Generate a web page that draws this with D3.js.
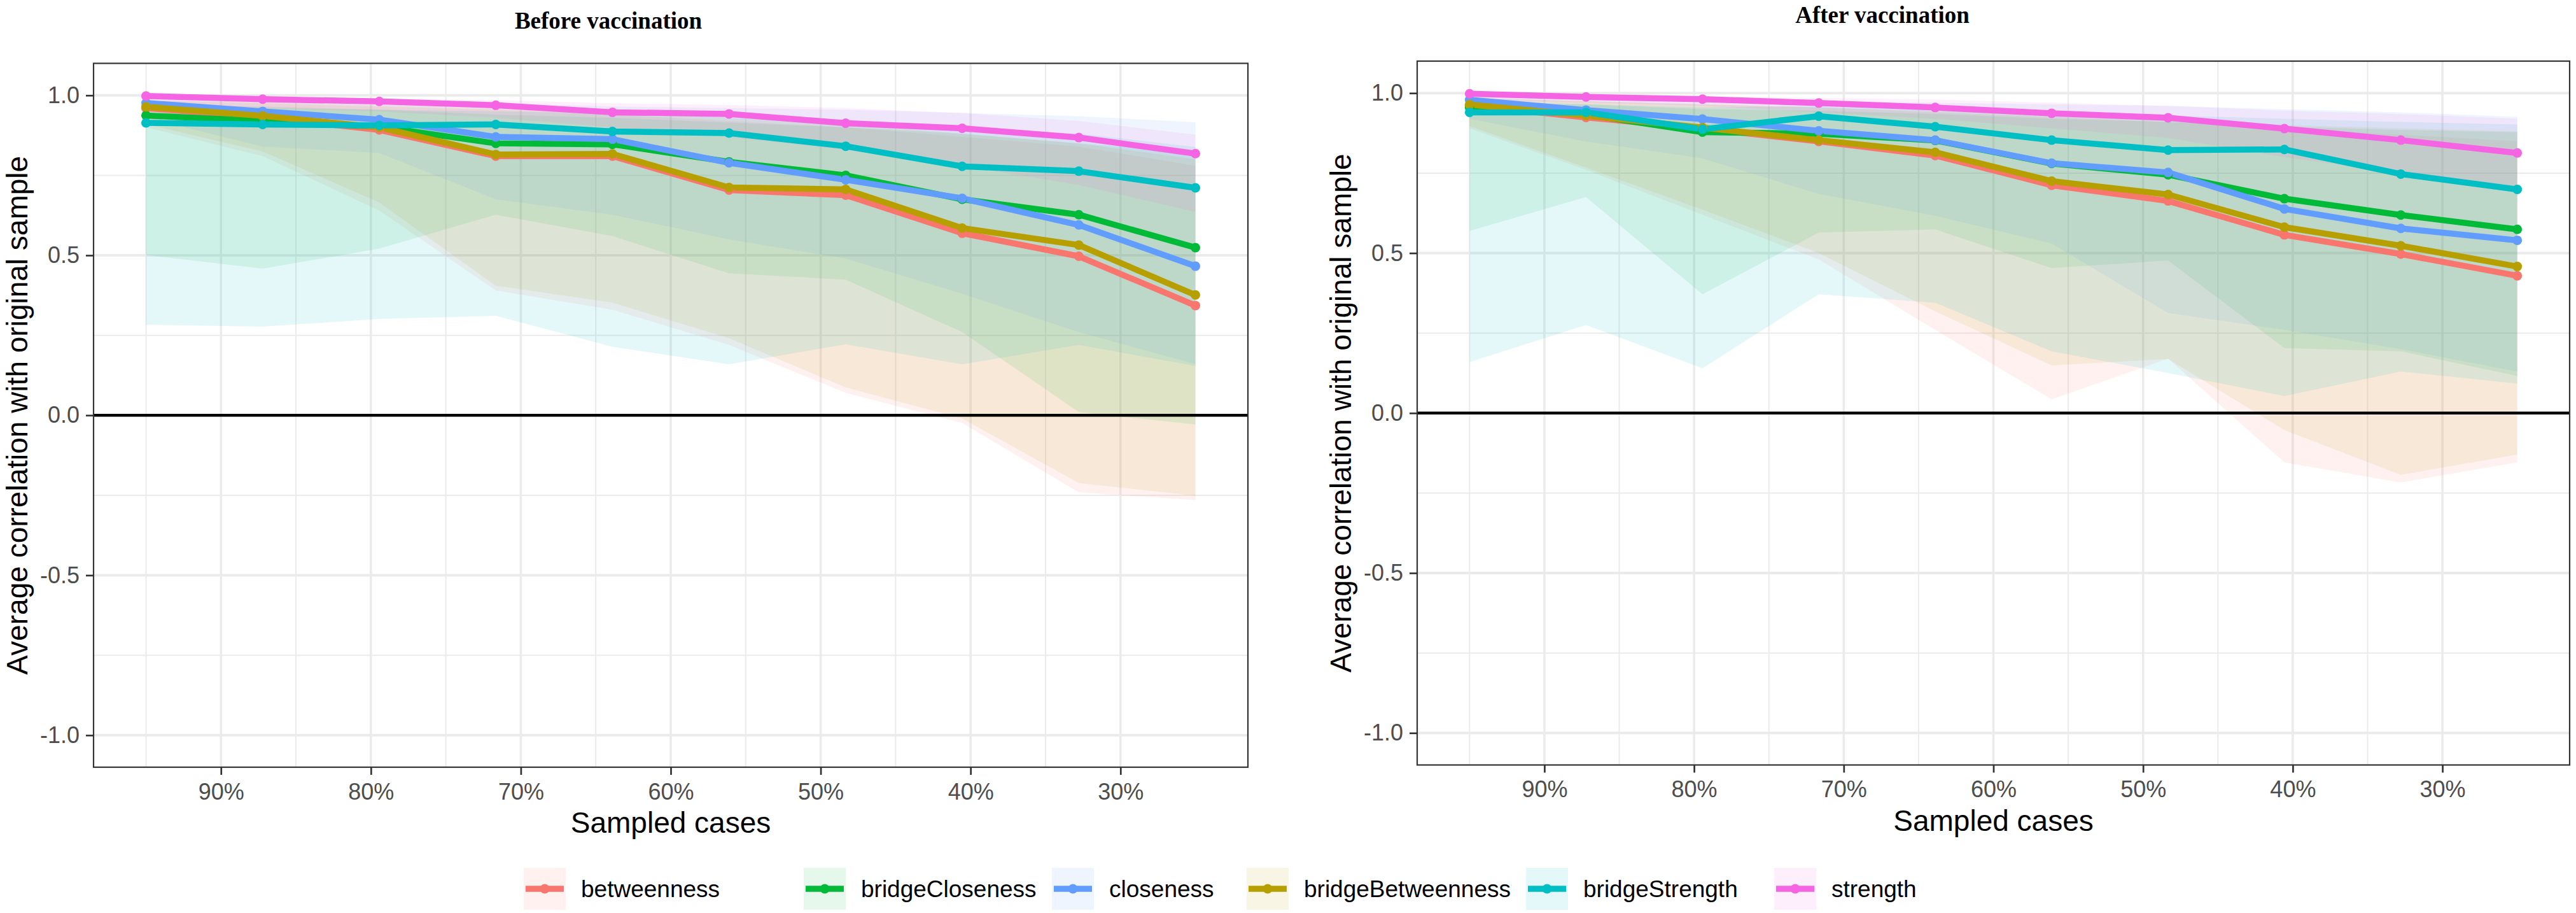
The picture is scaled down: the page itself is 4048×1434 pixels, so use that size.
<!DOCTYPE html>
<html>
<head>
<meta charset="utf-8">
<script src="https://cdn.jsdelivr.net/npm/d3@7/dist/d3.min.js"></script>
<style>
  html, body { margin: 0; padding: 0; background: #ffffff; }
  svg { display: block; }
</style>
</head>
<body>
<svg id="chart" width="4048" height="1434"></svg>
<script>
// ---------------- DATA ----------------
const seriesNames = ["betweenness", "bridgeCloseness", "closeness", "bridgeBetweenness", "bridgeStrength", "strength"];
const seriesColors = ["#F8766D", "#00BA38", "#619CFF", "#B79F00", "#00BFC4", "#F564E3"];
// proportion of sampled cases
const sampled = [0.95, 0.8722, 0.7944, 0.7167, 0.6389, 0.5611, 0.4833, 0.4056, 0.3278, 0.25];
const xTickValues = [0.9, 0.8, 0.7, 0.6, 0.5, 0.4, 0.3];
const xTickLabels = ["90%", "80%", "70%", "60%", "50%", "40%", "30%"];
const xMinorValues = [0.95, 0.85, 0.75, 0.65, 0.55, 0.45, 0.35];
const yTickValues = [-1.0, -0.5, 0.0, 0.5, 1.0];
const yTickLabels = ["-1.0", "-0.5", "0.0", "0.5", "1.0"];
const yMinorValues = [-0.75, -0.25, 0.25, 0.75];
const panelTitles = ["Before vaccination", "After vaccination"];
const xAxisTitle = "Sampled cases";
const yAxisTitle = "Average correlation with original sample";

// rows follow seriesNames order
const beforeMean = [
  [0.960, 0.932, 0.892, 0.810, 0.810, 0.704, 0.688, 0.569, 0.497, 0.343],
  [0.937, 0.920, 0.902, 0.850, 0.847, 0.792, 0.750, 0.675, 0.627, 0.524],
  [0.976, 0.950, 0.924, 0.870, 0.863, 0.789, 0.736, 0.678, 0.595, 0.466],
  [0.964, 0.936, 0.900, 0.815, 0.817, 0.712, 0.706, 0.585, 0.532, 0.376],
  [0.914, 0.909, 0.906, 0.909, 0.887, 0.882, 0.841, 0.778, 0.763, 0.711],
  [0.998, 0.988, 0.981, 0.969, 0.947, 0.942, 0.913, 0.897, 0.868, 0.818]
];
const beforeLower = [
  [0.900, 0.810, 0.640, 0.390, 0.330, 0.220, 0.070, -0.024, -0.241, -0.265],
  [0.501, 0.458, 0.521, 0.627, 0.560, 0.444, 0.424, 0.260, 0.010, -0.029],
  [0.930, 0.840, 0.820, 0.675, 0.627, 0.550, 0.490, 0.380, 0.260, 0.160],
  [0.910, 0.825, 0.665, 0.405, 0.352, 0.241, 0.087, -0.010, -0.212, -0.251],
  [0.283, 0.277, 0.301, 0.311, 0.214, 0.159, 0.222, 0.159, 0.220, 0.154],
  [0.975, 0.960, 0.950, 0.930, 0.900, 0.870, 0.830, 0.780, 0.720, 0.636]
];
const beforeUpper = [
  [0.985, 0.975, 0.965, 0.955, 0.940, 0.920, 0.900, 0.870, 0.840, 0.780],
  [0.970, 0.965, 0.955, 0.940, 0.930, 0.915, 0.900, 0.880, 0.850, 0.820],
  [0.995, 0.990, 0.985, 0.975, 0.965, 0.960, 0.955, 0.945, 0.935, 0.916],
  [0.985, 0.980, 0.970, 0.960, 0.950, 0.930, 0.910, 0.880, 0.850, 0.800],
  [0.960, 0.960, 0.955, 0.950, 0.945, 0.940, 0.925, 0.900, 0.880, 0.839],
  [0.999, 0.995, 0.990, 0.985, 0.975, 0.970, 0.960, 0.945, 0.920, 0.877]
];
const afterMean = [
  [0.962, 0.924, 0.890, 0.849, 0.805, 0.712, 0.663, 0.557, 0.497, 0.429],
  [0.955, 0.933, 0.878, 0.873, 0.852, 0.780, 0.745, 0.670, 0.619, 0.574],
  [0.979, 0.947, 0.919, 0.882, 0.853, 0.781, 0.752, 0.638, 0.577, 0.540],
  [0.964, 0.930, 0.892, 0.853, 0.815, 0.725, 0.683, 0.581, 0.523, 0.458],
  [0.940, 0.940, 0.887, 0.928, 0.895, 0.853, 0.822, 0.824, 0.747, 0.699],
  [0.998, 0.988, 0.981, 0.969, 0.955, 0.937, 0.923, 0.889, 0.853, 0.813]
];
const afterLower = [
  [0.890, 0.760, 0.620, 0.480, 0.260, 0.043, 0.170, -0.154, -0.217, -0.154],
  [0.569, 0.675, 0.371, 0.564, 0.574, 0.453, 0.477, 0.203, 0.193, 0.116],
  [0.920, 0.849, 0.796, 0.685, 0.617, 0.530, 0.313, 0.260, 0.200, 0.130],
  [0.897, 0.767, 0.636, 0.500, 0.318, 0.149, 0.169, -0.053, -0.193, -0.130],
  [0.159, 0.275, 0.140, 0.371, 0.345, 0.193, 0.125, 0.053, 0.130, 0.092],
  [0.980, 0.970, 0.960, 0.940, 0.920, 0.890, 0.860, 0.800, 0.750, 0.700]
];
const afterUpper = [
  [0.985, 0.975, 0.965, 0.955, 0.940, 0.925, 0.910, 0.890, 0.870, 0.850],
  [0.975, 0.965, 0.950, 0.945, 0.935, 0.920, 0.910, 0.895, 0.885, 0.878],
  [0.995, 0.990, 0.985, 0.975, 0.970, 0.965, 0.960, 0.950, 0.940, 0.926],
  [0.985, 0.975, 0.965, 0.955, 0.945, 0.930, 0.915, 0.900, 0.890, 0.880],
  [0.965, 0.965, 0.955, 0.960, 0.950, 0.940, 0.930, 0.920, 0.910, 0.902],
  [0.999, 0.995, 0.990, 0.985, 0.980, 0.970, 0.960, 0.945, 0.935, 0.920]
];

// ---------------- DRAWING ----------------
const svg = d3.select("#chart");
const FONT = "'Liberation Sans', Arial, 'DejaVu Sans', sans-serif";
const SERIF = "'Liberation Serif', 'Times New Roman', serif";

const panels = [
  { left: 147, right: 1961, top: 99.5, bottom: 1205, title: panelTitles[0], titleX: 956, titleY: 45,
    mean: beforeMean, lower: beforeLower, upper: beforeUpper },
  { left: 2227, right: 4038, top: 96, bottom: 1201.5, title: panelTitles[1], titleX: 2958, titleY: 36,
    mean: afterMean, lower: afterLower, upper: afterUpper }
];

panels.forEach(p => {
  const x = d3.scaleLinear().domain([0.985, 0.215]).range([p.left, p.right]);
  const y = d3.scaleLinear().domain([-1.1, 1.1]).range([p.bottom, p.top]);
  const g = svg.append("g");

  const clipId = "clip" + p.left;
  svg.append("clipPath").attr("id", clipId).append("rect")
    .attr("x", p.left).attr("y", p.top).attr("width", p.right - p.left).attr("height", p.bottom - p.top);

  const grid = g.append("g").attr("clip-path", `url(#${clipId})`);
  // minor grid
  grid.selectAll(".ymin").data(yMinorValues).enter().append("line")
    .attr("x1", p.left).attr("x2", p.right).attr("y1", d => y(d)).attr("y2", d => y(d))
    .attr("stroke", "#EBEBEB").attr("stroke-width", 2);
  grid.selectAll(".xmin").data(xMinorValues).enter().append("line")
    .attr("y1", p.top).attr("y2", p.bottom).attr("x1", d => x(d)).attr("x2", d => x(d))
    .attr("stroke", "#EBEBEB").attr("stroke-width", 2);
  // major grid
  grid.selectAll(".ymaj").data(yTickValues).enter().append("line")
    .attr("x1", p.left).attr("x2", p.right).attr("y1", d => y(d)).attr("y2", d => y(d))
    .attr("stroke", "#EBEBEB").attr("stroke-width", 4);
  grid.selectAll(".xmaj").data(xTickValues).enter().append("line")
    .attr("y1", p.top).attr("y2", p.bottom).attr("x1", d => x(d)).attr("x2", d => x(d))
    .attr("stroke", "#EBEBEB").attr("stroke-width", 3.5);

  // ribbons
  const area = d3.area()
    .x(d => x(d.x)).y0(d => y(d.lo)).y1(d => y(d.hi));
  seriesNames.forEach((name, i) => {
    const pts = sampled.map((s, j) => ({ x: s, lo: p.lower[i][j], hi: p.upper[i][j] }));
    grid.append("path").datum(pts).attr("d", area)
      .attr("fill", seriesColors[i]).attr("fill-opacity", 0.1).attr("stroke", "none");
  });

  // zero line
  grid.append("line").attr("x1", p.left).attr("x2", p.right)
    .attr("y1", y(0)).attr("y2", y(0)).attr("stroke", "#000").attr("stroke-width", 4.3);

  // lines
  const line = d3.line().x(d => x(d.x)).y(d => y(d.v));
  seriesNames.forEach((name, i) => {
    const pts = sampled.map((s, j) => ({ x: s, v: p.mean[i][j] }));
    grid.append("path").datum(pts).attr("d", line)
      .attr("fill", "none").attr("stroke", seriesColors[i]).attr("stroke-width", 9.5)
      .attr("stroke-linejoin", "round");
  });
  // points
  seriesNames.forEach((name, i) => {
    const pts = sampled.map((s, j) => ({ x: s, v: p.mean[i][j] }));
    grid.selectAll(null).data(pts).enter().append("circle")
      .attr("cx", d => x(d.x)).attr("cy", d => y(d.v)).attr("r", 7.5)
      .attr("fill", seriesColors[i]);
  });

  // border
  g.append("rect").attr("x", p.left).attr("y", p.top)
    .attr("width", p.right - p.left).attr("height", p.bottom - p.top)
    .attr("fill", "none").attr("stroke", "#333333").attr("stroke-width", 2.2);

  // axes
  const yAxis = d3.axisLeft(y).tickValues(yTickValues)
    .tickFormat((d, i) => yTickLabels[i]).tickSize(12).tickPadding(10);
  const ya = g.append("g").attr("transform", `translate(${p.left},0)`).call(yAxis);
  ya.select(".domain").remove();
  ya.selectAll(".tick line").attr("stroke", "#333333").attr("stroke-width", 2.7);
  ya.selectAll(".tick text").attr("fill", "#4D4D4D").style("font-family", FONT).style("font-size", "36px");

  const xAxis = d3.axisBottom(x).tickValues(xTickValues)
    .tickFormat((d, i) => xTickLabels[i]).tickSize(12).tickPadding(10);
  const xa = g.append("g").attr("transform", `translate(0,${p.bottom})`).call(xAxis);
  xa.select(".domain").remove();
  xa.selectAll(".tick line").attr("stroke", "#333333").attr("stroke-width", 2.7);
  xa.selectAll(".tick text").attr("fill", "#4D4D4D").style("font-family", FONT).style("font-size", "36px")
    .attr("y", 25).attr("dy", "0.71em");

  // titles
  g.append("text").attr("x", (p.left + p.right) / 2).attr("y", p.bottom + 103)
    .attr("text-anchor", "middle").style("font-family", FONT).style("font-size", "46px")
    .attr("fill", "#000").text(xAxisTitle);
  g.append("text").attr("transform", `translate(${p.left - 104},${(p.top + p.bottom) / 2}) rotate(-90)`)
    .attr("text-anchor", "middle").style("font-family", FONT).style("font-size", "46px")
    .attr("fill", "#000").text(yAxisTitle);
  g.append("text").attr("x", p.titleX).attr("y", p.titleY)
    .attr("text-anchor", "middle").style("font-family", SERIF).style("font-size", "37px")
    .style("font-weight", "bold").attr("fill", "#000").text(p.title);
});

// legend
const legendKeyX = [823, 1263, 1653, 1959, 2398, 2788];
const legendTop = 1363, keySize = 66;
const lg = svg.append("g");
seriesNames.forEach((name, i) => {
  const kx = legendKeyX[i];
  lg.append("rect").attr("x", kx).attr("y", legendTop).attr("width", keySize).attr("height", keySize)
    .attr("fill", seriesColors[i]).attr("fill-opacity", 0.1);
  lg.append("line").attr("x1", kx + 3).attr("x2", kx + keySize - 3)
    .attr("y1", legendTop + keySize / 2).attr("y2", legendTop + keySize / 2)
    .attr("stroke", seriesColors[i]).attr("stroke-width", 9.5);
  lg.append("circle").attr("cx", kx + keySize / 2).attr("cy", legendTop + keySize / 2).attr("r", 7.5)
    .attr("fill", seriesColors[i]);
  lg.append("text").attr("x", kx + 90).attr("y", legendTop + keySize / 2).attr("dy", "0.35em")
    .style("font-family", FONT).style("font-size", "37px").attr("fill", "#000").text(name);
});
</script>
</body>
</html>
